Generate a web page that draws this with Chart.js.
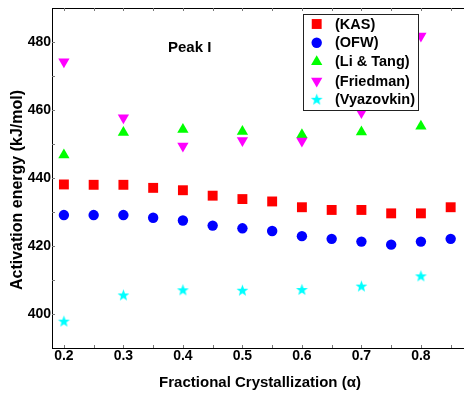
<!DOCTYPE html>
<html>
<head>
<meta charset="utf-8">
<script src="https://cdn.jsdelivr.net/npm/chart.js@4/dist/chart.umd.min.js"></script>
<style>
  html, body { margin: 0; padding: 0; background: #fff; }
  #wrap { width: 464px; height: 394px; position: relative; }
</style>
</head>
<body>
<div id="wrap"><canvas id="c" width="464" height="394"></canvas></div>
<script>
// ---- data ----
const xFine = [0.2, 0.25, 0.3, 0.35, 0.4, 0.45, 0.5, 0.55, 0.6, 0.65, 0.7, 0.75, 0.8, 0.85];
const xCoarse = [0.2, 0.3, 0.4, 0.5, 0.6, 0.7, 0.8];
const kas = [438.1, 438.0, 438.0, 437.1, 436.4, 434.8, 433.8, 433.1, 431.4, 430.6, 430.6, 429.6, 429.6, 431.4];
const ofw = [429.1, 429.1, 429.1, 428.3, 427.5, 426.0, 425.2, 424.4, 422.9, 422.1, 421.3, 420.4, 421.3, 422.1];
const liTang = [446.8, 453.4, 454.3, 453.7, 452.7, 453.5, 455.2];
const friedman = [474.2, 457.7, 449.4, 451.0, 450.9, 459.3, 481.8];
const vyazovkin = [397.9, 405.6, 407.1, 407.0, 407.2, 408.2, 411.2];
const seriesNames = ['(KAS)', '(OFW)', '(Li & Tang)', '(Friedman)', '(Vyazovkin)'];
const yTickLabels = [400, 420, 440, 460, 480];
const xTickLabels = [0.2, 0.3, 0.4, 0.5, 0.6, 0.7, 0.8];
const yAxisTitle = 'Activation energy (kJ/mol)';
const xAxisTitle = 'Fractional Crystallization (\u03B1)';
const annotationText = 'Peak I';

const FONT = '"Liberation Sans", Arial, Helvetica, sans-serif';

function makeStar(color, outer, inner) {
  const s = Math.ceil(outer * 2 + 2);
  const cv = document.createElement('canvas');
  cv.width = s; cv.height = s;
  const g = cv.getContext('2d');
  g.beginPath();
  for (let i = 0; i < 10; i++) {
    const r = i % 2 === 0 ? outer : inner;
    const a = -Math.PI / 2 + i * Math.PI / 5;
    const px = s / 2 + r * Math.cos(a), py = s / 2 + 0.5 + r * Math.sin(a);
    if (i === 0) g.moveTo(px, py); else g.lineTo(px, py);
  }
  g.closePath();
  g.fillStyle = color;
  g.fill();
  return cv;
}
const starImg = makeStar('#00ffff', 6.2, 2.6);

function pts(xs, ys) { return xs.map((x, i) => ({ x: x, y: ys[i] })); }

const styles = [
  { color: '#ff0000', pointStyle: 'rect', radius: 7, rotation: 0 },
  { color: '#0000ff', pointStyle: 'circle', radius: 5.2, rotation: 0 },
  { color: '#00ff00', pointStyle: 'triangle', radius: 6.5, rotation: 0 },
  { color: '#ff00ff', pointStyle: 'triangle', radius: 6.5, rotation: 180 },
  { color: '#00ffff', pointStyle: starImg, radius: 6, rotation: 0 }
];
const dataArr = [pts(xFine, kas), pts(xFine, ofw), pts(xCoarse, liTang), pts(xCoarse, friedman), pts(xCoarse, vyazovkin)];

const datasets = dataArr.map((d, i) => ({
  label: seriesNames[i],
  data: d,
  showLine: false,
  pointStyle: styles[i].pointStyle,
  pointRadius: styles[i].radius,
  pointHoverRadius: styles[i].radius,
  pointRotation: styles[i].rotation,
  backgroundColor: styles[i].color,
  borderColor: styles[i].color,
  pointBorderWidth: 0,
  borderWidth: 0,
  order: 5 - i,
  clip: false
}));

function drawMarker(ctx, st, x, y) {
  ctx.fillStyle = st.color;
  ctx.strokeStyle = st.color;
  if (st.pointStyle instanceof HTMLCanvasElement) {
    ctx.drawImage(st.pointStyle, x - st.pointStyle.width / 2, y - st.pointStyle.height / 2);
    return;
  }
  if (Chart.helpers && Chart.helpers.drawPoint) {
    Chart.helpers.drawPoint(ctx, { pointStyle: st.pointStyle, rotation: st.rotation, radius: st.radius, borderWidth: 0 }, x, y);
  }
}

const decor = {
  id: 'decor',
  afterDatasetsDraw(chart) {
    const ctx = chart.ctx;
    const a = chart.chartArea;
    const xs = chart.scales.x, ys = chart.scales.y;
    ctx.save();
    // top border line
    ctx.strokeStyle = '#000';
    ctx.lineWidth = 1;
    ctx.beginPath();
    ctx.moveTo(a.left, a.top + 0.5);
    ctx.lineTo(a.right, a.top + 0.5);
    ctx.stroke();
    // small inside ticks
    ctx.strokeStyle = '#777';
    ctx.beginPath();
    for (let v = 400; v <= 480; v += 10) {
      const y = Math.round(ys.getPixelForValue(v)) + 0.5;
      ctx.moveTo(a.left, y); ctx.lineTo(a.left + 3, y);
    }
    for (let k = 4; k <= 17; k++) {
      const v = k * 0.05;
      const x = Math.round(xs.getPixelForValue(v)) + 0.5;
      ctx.moveTo(x, a.bottom); ctx.lineTo(x, a.bottom - 3);
      ctx.moveTo(x, a.top); ctx.lineTo(x, a.top + 3);
    }
    ctx.stroke();

    // annotation
    ctx.fillStyle = '#000';
    ctx.font = 'bold 15px ' + FONT;
    ctx.textAlign = 'left';
    ctx.textBaseline = 'alphabetic';
    ctx.fillText(annotationText, 168, 52);

    // legend box
    const bx = 303, by = 14, bw = 115, bh = 96;
    ctx.fillStyle = '#fff';
    ctx.fillRect(bx, by, bw, bh);
    ctx.strokeStyle = '#222';
    ctx.lineWidth = 1;
    ctx.strokeRect(bx + 0.5, by + 0.5, bw, bh);
    const rowY = [24, 42.7, 61.7, 81, 99.3];
    seriesNames.forEach((name, i) => {
      drawMarker(ctx, styles[i], 316.7, rowY[i]);
      ctx.fillStyle = '#000';
      ctx.font = 'bold 14.5px ' + FONT;
      ctx.textAlign = 'left';
      ctx.textBaseline = 'middle';
      ctx.fillText(name, 335, rowY[i] + 0.5);
    });

    // axis titles
    ctx.fillStyle = '#000';
    ctx.font = 'bold 15px ' + FONT;
    ctx.textAlign = 'center';
    ctx.textBaseline = 'alphabetic';
    ctx.fillText(xAxisTitle, 260, 386.5);
    ctx.save();
    ctx.translate(21.5, 190);
    ctx.rotate(-Math.PI / 2);
    ctx.font = 'bold 16px ' + FONT;
    ctx.fillText(yAxisTitle, 0, 0);
    ctx.restore();
    ctx.restore();
  }
};

new Chart(document.getElementById('c'), {
  type: 'scatter',
  data: { datasets: datasets },
  plugins: [decor],
  options: {
    responsive: false,
    animation: false,
    devicePixelRatio: 1,
    layout: { autoPadding: false, padding: { top: 8, left: 0, right: 0, bottom: 0 } },
    plugins: { legend: { display: false }, tooltip: { enabled: false } },
    scales: {
      x: {
        type: 'linear',
        min: 0.18,
        max: 0.8724,
        grid: { display: false, drawTicks: false },
        border: { display: true, color: '#000', width: 1 },
        afterBuildTicks(scale) { scale.ticks = xTickLabels.map(v => ({ value: v })); },
        afterFit(scale) { scale.height = 46; scale.paddingLeft = 0; scale.paddingRight = 0; },
        ticks: {
          padding: 0,
          color: '#000',
          font: { family: FONT, size: 14, weight: 'bold' },
          callback: (v) => v.toFixed(1)
        }
      },
      y: {
        type: 'linear',
        min: 390,
        max: 490,
        grid: { display: false, drawTicks: false },
        border: { display: true, color: '#000', width: 1 },
        afterBuildTicks(scale) { scale.ticks = yTickLabels.map(v => ({ value: v })); },
        afterFit(scale) { scale.width = 52; scale.paddingTop = 0; scale.paddingBottom = 0; },
        ticks: {
          padding: 1,
          color: '#000',
          font: { family: FONT, size: 14, weight: 'bold' },
          callback: (v) => String(v)
        }
      }
    }
  }
});
</script>
</body>
</html>
